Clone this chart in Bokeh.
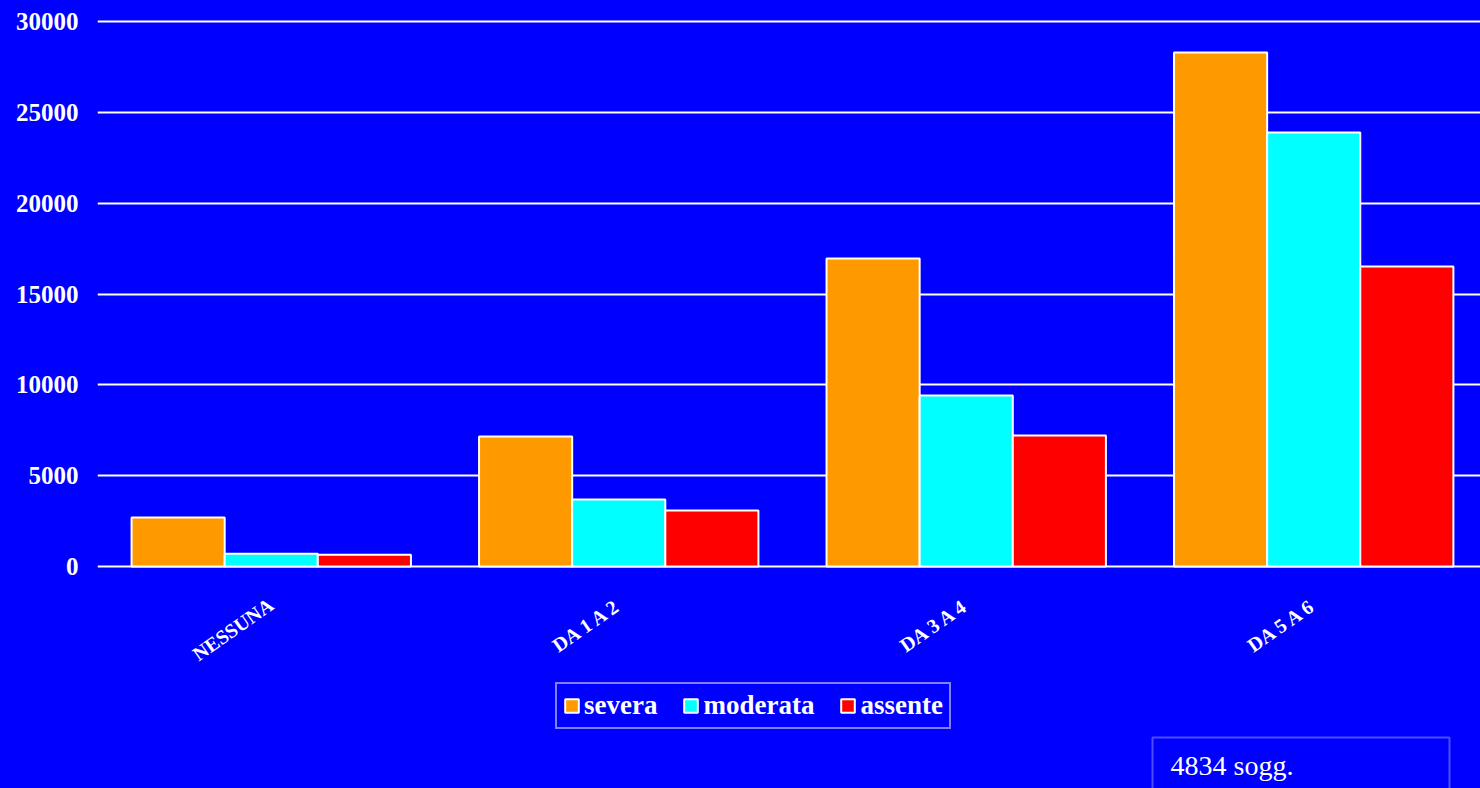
from bokeh.plotting import figure
from bokeh.models import (Range1d, FixedTicker, Legend, LegendItem, Label, BoxAnnotation, ColumnDataSource)
from bokeh.core.properties import value
from bokeh.embed import file_html
from bokeh.resources import INLINE

categories = ["NESSUNA", "DA 1 A 2", "DA 3 A 4", "DA 5 A 6"]
severa = [2700, 7150, 16950, 28300]
moderata = [700, 3690, 9410, 23890]
assente = [640, 3080, 7210, 16510]
series_names = ["severa", "moderata", "assente"]
series_colors = ["#FF9900", "#00FFFF", "#FF0000"]
y_ticks = [0, 5000, 10000, 15000, 20000, 25000, 30000]
note_text = "4834 sogg."

BLUE = "#0000FF"
FONT = "Liberation Serif"
W, H = 1480, 788
FRAME_LEFT, FRAME_TOP = 97, 14
TOP_TICK_PX, ZERO_PX = 21, 566

# value 0 sits at pixel row ZERO_PX, value 30000 at TOP_TICK_PX; frame runs to the bottom
px_per_unit = (ZERO_PX - TOP_TICK_PX) / y_ticks[-1]
y_max = y_ticks[-1] + (TOP_TICK_PX - FRAME_TOP) / px_per_unit
y_min = -(H - ZERO_PX) / px_per_unit

x_center = [i + 0.5 for i in range(len(categories))]

p = figure(width=W, height=H, output_backend="svg", toolbar_location=None,
           x_range=Range1d(0, 3.98), y_range=Range1d(y_min, y_max),
           min_border_left=FRAME_LEFT, min_border_right=0, min_border_top=FRAME_TOP,
           min_border_bottom=0, x_axis_location=None)
p.background_fill_color = BLUE
p.border_fill_color = BLUE
p.outline_line_color = None
p.styles = {"background-color": BLUE}

bar_w = 0.268
renderers = []
for k, (vals, col) in enumerate(zip([severa, moderata, assente], series_colors)):
    src = ColumnDataSource(dict(x=[c + (k - 1) * bar_w for c in x_center], top=vals))
    r = p.vbar(x="x", top="top", width=bar_w, bottom=0, source=src,
               fill_color=col, line_color="white", line_width=2)
    renderers.append(r)

p.xgrid.visible = False
p.ygrid.grid_line_color = "white"
p.ygrid.grid_line_width = 2
p.ygrid.ticker = FixedTicker(ticks=y_ticks)

p.yaxis.ticker = FixedTicker(ticks=y_ticks)
p.yaxis.axis_line_color = None
p.yaxis.major_tick_line_color = None
p.yaxis.minor_tick_line_color = None
p.yaxis.major_label_standoff = 13
p.yaxis.major_label_text_color = "white"
p.yaxis.major_label_text_font = FONT
p.yaxis.major_label_text_font_style = "bold"
p.yaxis.major_label_text_font_size = "25px"

# category labels, rotated, under each group
cat_src = ColumnDataSource(dict(x=x_center, y=[0] * len(categories), text=categories))
p.text(x="x", y="y", text="text", source=cat_src, angle=0.61, y_offset=36,
       text_align="right", text_baseline="middle", text_color="white",
       text_font=value(FONT), text_font_style="bold", text_font_size="20px")

legend = Legend(items=[LegendItem(label=n, renderers=[r]) for n, r in zip(series_names, renderers)],
                orientation="horizontal", location=(555 - FRAME_LEFT, H - 729), margin=0,
                padding=6, spacing=25, label_standoff=4,
                glyph_width=17, glyph_height=17,
                background_fill_color=BLUE, background_fill_alpha=1,
                border_line_color="white", border_line_width=2,
                label_text_color="white", label_text_font=FONT,
                label_text_font_style="bold", label_text_font_size="27px")
p.add_layout(legend, "center")

box = BoxAnnotation(left=1152 - FRAME_LEFT, right=1449 - FRAME_LEFT, top=H - 737, bottom=-20,
                    left_units="screen", right_units="screen", top_units="screen", bottom_units="screen",
                    fill_color=BLUE, fill_alpha=1, line_color="white", line_width=2)
p.add_layout(box)

note = Label(x=1170 - FRAME_LEFT, y=H - 765, x_units="screen", y_units="screen", text=note_text,
             text_color="white", text_font=FONT, text_font_size="28px", text_baseline="alphabetic")
p.add_layout(note)

open("out.html", "w").write(file_html(p, INLINE))
